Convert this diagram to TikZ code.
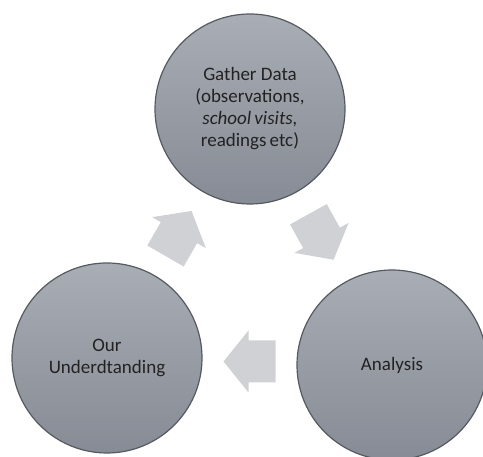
\documentclass[tikz,border=0pt]{standalone}
\usepackage{fontspec}
\setmainfont{Carlito}
\usetikzlibrary{calc}
\definecolor{disctop}{HTML}{A9ADB4}
\definecolor{discbot}{HTML}{868B95}
\definecolor{discrim}{HTML}{555960}
\definecolor{arrowgray}{HTML}{CFD1D4}
\definecolor{labelgray}{HTML}{222222}
\tikzset{
  disc/.style={circle,minimum size=190pt,inner sep=0pt,top color=disctop,bottom color=discbot,
    draw=discrim,line width=1.2pt,align=center,text=labelgray,font=\fontsize{19}{22}\selectfont},
  blockarrow/.style={fill=arrowgray}
}

\begin{document}
\begin{tikzpicture}[x=1pt,y=1pt]
\useasboundingbox (0,0) rectangle (483,457);
\node[disc] (gather) at (250,348) {Gather Data\\(observations,\\\textit{school\,visits,}\\readings\,etc)};
\node[disc] (understand) at (107,99) {Our\\Underdtanding};
\node[disc] (analysis) at (392,92) {Analysis};
\foreach \a/\b/\r in {understand/gather/60,gather/analysis/-61,analysis/understand/180}{
\begin{scope}[shift={($(\a)!0.5!(\b)$)},rotate=\r]
\fill[blockarrow] (-26,-21) -- (1,-21) -- (1,-31) -- (26,0) -- (1,31) -- (1,21) -- (-26,21) -- cycle;
\end{scope}
}
\end{tikzpicture}
\end{document}
